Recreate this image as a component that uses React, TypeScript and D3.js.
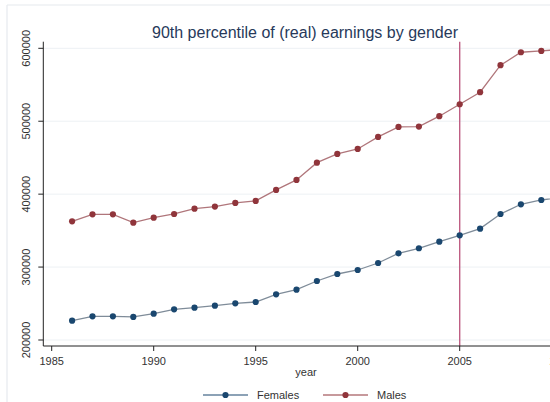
import React from "react";
import * as d3 from "d3";

// Annual 90th percentile of real earnings, by gender
const years = [1986, 1987, 1988, 1989, 1990, 1991, 1992, 1993, 1994, 1995, 1996, 1997, 1998, 1999, 2000, 2001, 2002, 2003, 2004, 2005, 2006, 2007, 2008, 2009, 2010];
const females = [226500, 232500, 232500, 231600, 236100, 242100, 244300, 247100, 250300, 252100, 262700, 269000, 280900, 290500, 296000, 305600, 318900, 325800, 334800, 343600, 352700, 372800, 386100, 392000, 395500];
const males = [362800, 372400, 372400, 360900, 367800, 372800, 380100, 382900, 387900, 390700, 405800, 419500, 443200, 455100, 462000, 478500, 492200, 492600, 506900, 523300, 539800, 576800, 594600, 596400, 598500];
const xTicks = [1985, 1990, 1995, 2000, 2005, 2010];
const yTicks = [200000, 300000, 400000, 500000, 600000];
const markerYear = 2005;

const W = 550;
const H = 402;
const FONT = "'Liberation Sans', Arial, Helvetica, sans-serif";
const NAVY = "#1a476f";
const MAROON = "#90353b";

export default function App() {
  const x = d3.scaleLinear().domain([1985, 2010]).range([51.7, 561.7]);
  const y = d3.scaleLinear().domain([200000, 600000]).range([340, 48.3]);
  const axisLeft = 43.3;
  const axisBottom = 346;
  const axisTop = 41.7;

  const line = d3
    .line<number>()
    .x((_, i) => x(years[i]))
    .y((d) => y(d));

  const series = [
    { name: "Females", values: females, color: NAVY, lineColor: "#7f8c99" },
    { name: "Males", values: males, color: MAROON, lineColor: "#b0767b" },
  ];

  return (
    <svg
      width={W}
      height={H}
      style={{ position: "absolute", left: 0, top: 0, display: "block", background: "#ffffff" }}
      fontFamily={FONT}
    >
      <defs>
        <clipPath id="plotClip">
          <rect x={axisLeft} y={0} width={W - axisLeft} height={axisBottom} />
        </clipPath>
      </defs>
      {/* outer frame */}
      <line x1={7} x2={W} y1={5} y2={5} stroke="#e6eaee" strokeWidth={1.2} />
      <line x1={7} x2={7} y1={5} y2={H} stroke="#e6eaee" strokeWidth={1.2} />

      {/* title */}
      <text x={305} y={38} textAnchor="middle" fontSize={16} fill="#27395a">
        90th percentile of (real) earnings by gender
      </text>

      {/* horizontal grid */}
      {yTicks.map((t) => (
        <line key={`g${t}`} x1={axisLeft} x2={W} y1={y(t)} y2={y(t)} stroke="#edf1f4" strokeWidth={1} />
      ))}

      {/* reference year */}
      <line x1={x(markerYear)} x2={x(markerYear)} y1={axisTop} y2={axisBottom} stroke="#bf5f84" strokeWidth={1.4} />

      {/* series */}
      <g clipPath="url(#plotClip)">
        {series.map((s) => (
          <g key={s.name}>
            <path d={line(s.values) ?? ""} fill="none" stroke={s.lineColor} strokeWidth={1.3} />
            {s.values.map((v, i) => (
              <circle key={i} cx={x(years[i])} cy={y(v)} r={3.1} fill={s.color} />
            ))}
          </g>
        ))}
      </g>

      {/* y axis */}
      <line x1={axisLeft} x2={axisLeft} y1={axisTop} y2={axisBottom} stroke="#222" strokeWidth={1} />
      {yTicks.map((t) => (
        <g key={`y${t}`}>
          <line x1={axisLeft - 5} x2={axisLeft} y1={y(t)} y2={y(t)} stroke="#222" strokeWidth={1} />
          <text
            transform={`translate(30,${y(t)}) rotate(-90)`}
            textAnchor="middle"
            fontSize={11}
            fill="#333"
          >
            {t}
          </text>
        </g>
      ))}

      {/* x axis */}
      <line x1={axisLeft} x2={W} y1={axisBottom} y2={axisBottom} stroke="#222" strokeWidth={1} />
      {xTicks.map((t) => (
        <g key={`x${t}`}>
          <line x1={x(t)} x2={x(t)} y1={axisBottom} y2={axisBottom + 5} stroke="#222" strokeWidth={1} />
          <text x={x(t)} y={365} textAnchor="middle" fontSize={11} fill="#333">
            {t}
          </text>
        </g>
      ))}
      <text x={306} y={376} textAnchor="middle" fontSize={11} fill="#333">
        year
      </text>

      {/* legend */}
      {series.map((s, i) => {
        const x0 = i === 0 ? 203 : 323;
        return (
          <g key={`l${s.name}`}>
            <line x1={x0} x2={x0 + 45} y1={395} y2={395} stroke={s.color} strokeWidth={1.2} />
            <circle cx={x0 + 22.5} cy={395} r={3.1} fill={s.color} />
            <text x={x0 + 54} y={399} fontSize={11} fill="#333">
              {s.name}
            </text>
          </g>
        );
      })}
    </svg>
  );
}
